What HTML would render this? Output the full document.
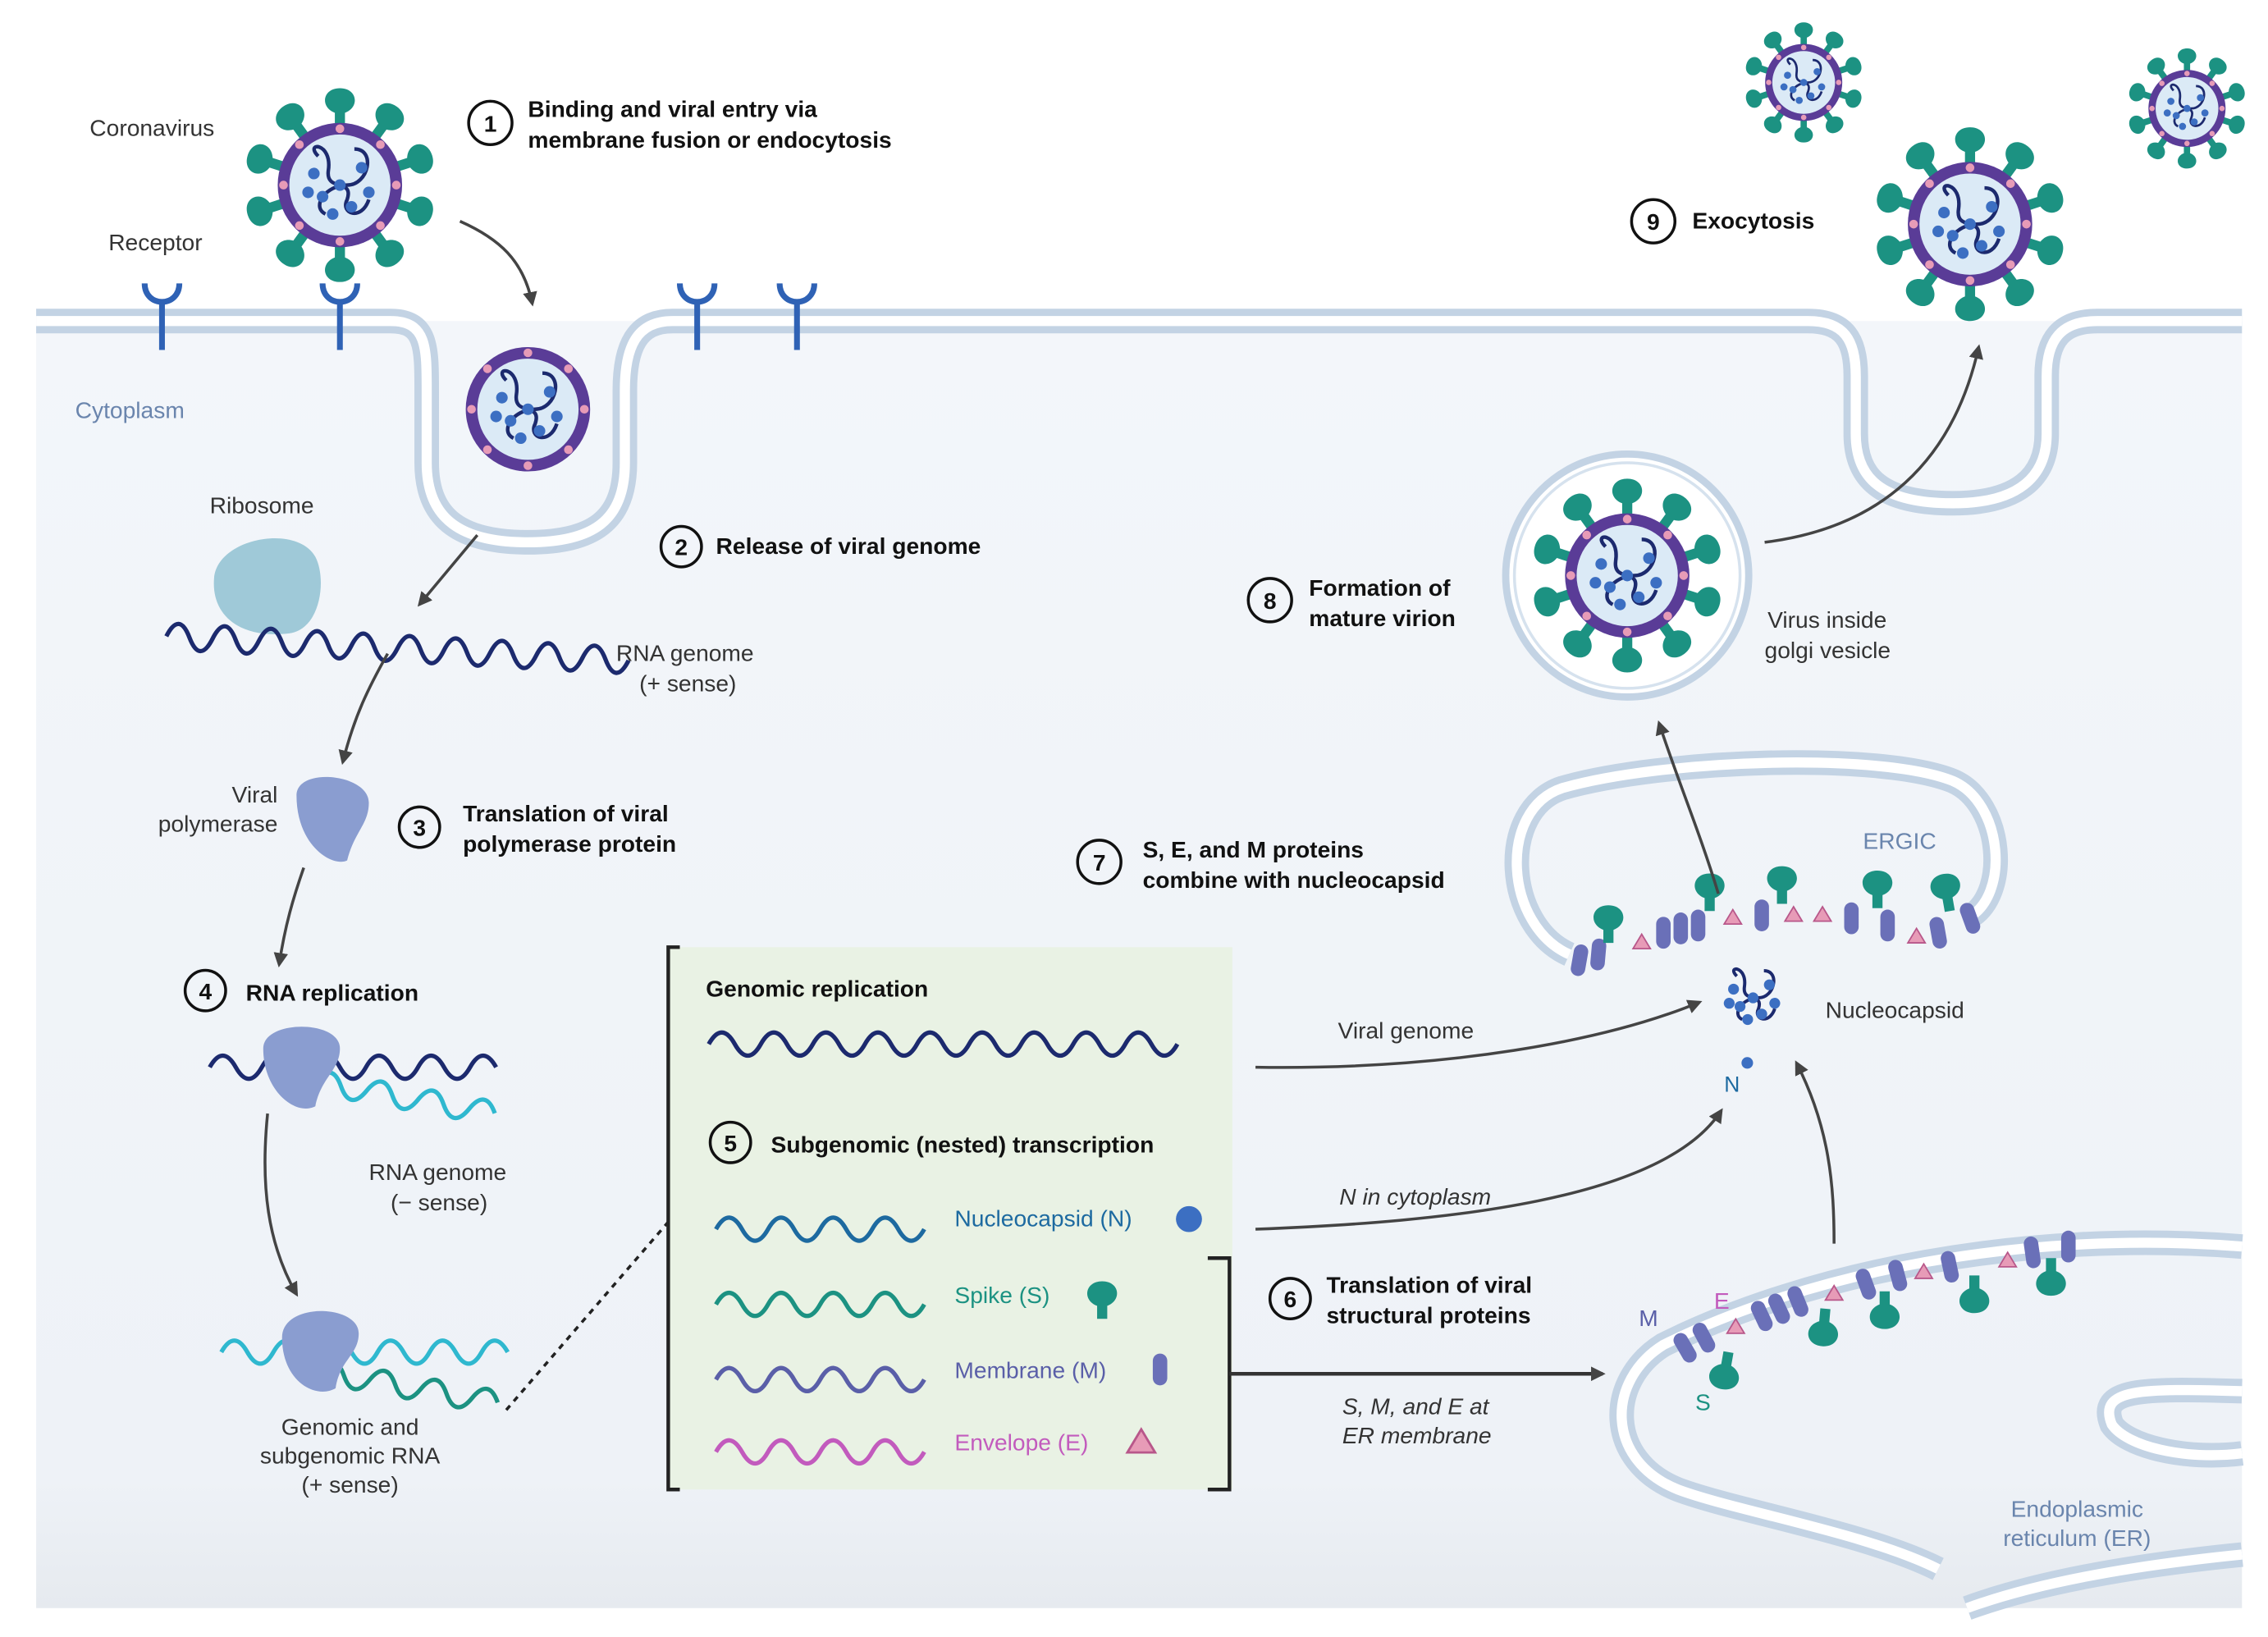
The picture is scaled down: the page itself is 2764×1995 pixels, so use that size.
<!DOCTYPE html>
<html><head><meta charset="utf-8"><style>
html,body{margin:0;padding:0;background:#fff}
svg{display:block}
text{font-family:"Liberation Sans",sans-serif}
.b{font-weight:bold;font-size:16px;fill:#111}
.n{font-size:16px;fill:#333}
</style></head><body>
<svg width="2764" height="1995" viewBox="0 0 1568 1132" preserveAspectRatio="none" xmlns="http://www.w3.org/2000/svg">
<defs>
<linearGradient id="bg" x1="0" y1="0" x2="0" y2="1"><stop offset="0" stop-color="#f3f6fa"/><stop offset="0.9" stop-color="#eef2f7"/><stop offset="1" stop-color="#e6eaef"/></linearGradient>
<marker id="ah" markerWidth="10" markerHeight="10" refX="8" refY="5" orient="auto" markerUnits="userSpaceOnUse"><path d="M0,0 L10,5 L0,10 z" fill="#444"/></marker>
<g id="spike"><path d="M-3.5,0 L-3.5,-9 C-14,-13 -12,-26 0,-26 C12,-26 14,-13 3.5,-9 L3.5,0z" fill="#1c9282"/></g>
<g id="core">
<circle r="43" fill="#5a3c97"/>
<circle r="35" fill="#dbeaf6"/>
<g fill="#e79bb7"><circle cx="0" cy="-39" r="3"/><circle cx="0" cy="39" r="3"/><circle cx="-39" cy="0" r="3"/><circle cx="39" cy="0" r="3"/><circle cx="28" cy="28" r="3"/><circle cx="-28" cy="28" r="3"/><circle cx="28" cy="-28" r="3"/><circle cx="-28" cy="-28" r="3"/></g>
<path d="M-15,-20 C-25,-30 -5,-30 -8,-10 C-10,5 10,-5 5,10 C0,20 15,25 20,10 M10,-25 C25,-25 20,0 5,0 C-10,0 -20,15 -10,20" fill="none" stroke="#1c2a6e" stroke-width="2.5"/>
<g fill="#3c6fc2"><circle cx="-18" cy="-8" r="4"/><circle cx="-12" cy="8" r="4"/><circle cx="0" cy="0" r="4"/><circle cx="15" cy="-12" r="4"/><circle cx="8" cy="15" r="4"/><circle cx="-5" cy="20" r="4"/><circle cx="20" cy="5" r="4"/><circle cx="-22" cy="5" r="4"/></g>
</g>
<g id="virus">
<g><use href="#spike" transform="rotate(0) translate(0,-41)"/><use href="#spike" transform="rotate(36) translate(0,-41)"/><use href="#spike" transform="rotate(72) translate(0,-41)"/><use href="#spike" transform="rotate(108) translate(0,-41)"/><use href="#spike" transform="rotate(144) translate(0,-41)"/><use href="#spike" transform="rotate(180) translate(0,-41)"/><use href="#spike" transform="rotate(216) translate(0,-41)"/><use href="#spike" transform="rotate(252) translate(0,-41)"/><use href="#spike" transform="rotate(288) translate(0,-41)"/><use href="#spike" transform="rotate(324) translate(0,-41)"/></g>
<use href="#core"/>
</g>
<g id="rec"><path d="M-12,-22 C-12,-5 12,-5 12,-22" fill="none" stroke="#2f62b5" stroke-width="4"/><line x1="0" y1="-8" x2="0" y2="24" stroke="#2f62b5" stroke-width="4"/></g>
<g id="mem"><rect x="-5" y="-11" width="10" height="22" rx="5" fill="#6a70b8"/></g>
<g id="env"><path d="M-6,4 L6,4 L0,-6z" fill="#e79bb7" stroke="#b8578a" stroke-width="1"/></g>
</defs>
<rect width="1568" height="1132" fill="#fff"/>
<rect x="25" y="222" width="1525" height="890" fill="url(#bg)"/>
<path d="M25,222 H270 C295,222 295,240 295,270 V320 C295,360 320,375 365,375 C410,375 432,360 432,320 V270 C432,240 440,222 465,222 H1250 C1275,222 1283,235 1283,260 V300 C1283,330 1300,348 1350,348 C1395,348 1415,330 1415,300 V260 C1415,235 1425,222 1450,222 H1550" fill="none" stroke="#c3d3e4" stroke-width="17"/>
<path d="M25,222 H270 C295,222 295,240 295,270 V320 C295,360 320,375 365,375 C410,375 432,360 432,320 V270 C432,240 440,222 465,222 H1250 C1275,222 1283,235 1283,260 V300 C1283,330 1300,348 1350,348 C1395,348 1415,330 1415,300 V260 C1415,235 1425,222 1450,222 H1550" fill="none" stroke="#fff" stroke-width="7"/>
<rect x="0" y="0" width="1568" height="212" fill="#fff"/>
<use href="#rec" transform="translate(112,218)"/><use href="#rec" transform="translate(235,218)"/><use href="#rec" transform="translate(482,218)"/><use href="#rec" transform="translate(551,218)"/>
<use href="#virus" transform="translate(235,128)"/>
<use href="#core" transform="translate(365,283)"/>
<use href="#virus" transform="translate(1247,57) scale(0.62)"/>
<use href="#virus" transform="translate(1512,75) scale(0.62)"/>
<use href="#virus" transform="translate(1362,155)"/>
<text x="62" y="94" class="n">Coronavirus</text>
<text x="75" y="173" class="n">Receptor</text>
<text x="52" y="289" font-size="16" fill="#6a85ad">Cytoplasm</text>
<!-- ribosome & RNA -->
<text x="145" y="355" class="n">Ribosome</text>
<path d="M148,400 C150,372 205,362 218,385 C226,400 222,435 200,438 C165,442 146,425 148,400z" fill="#9fc9d8"/>
<path d="M115,440 q8,-18 16,0 t16,0 t16,0 t16,0 t16,0 t16,0 t16,0 t16,0 t16,0 t16,0 t16,0 t16,0 t16,0 t16,0 t16,0 t16,0 t16,0 t16,0 t16,0 t16,0" fill="none" stroke="#1c2a6e" stroke-width="3" transform="rotate(3 115 440)"/>
<path d="M330,370 L290,418" stroke="#444" stroke-width="2" marker-end="url(#ah)"/>
<text x="426" y="457" class="n">RNA genome</text><text x="442" y="478" class="n">(+ sense)</text>
<path d="M268,452 C255,475 245,495 237,527" fill="none" stroke="#444" stroke-width="2" marker-end="url(#ah)"/>
<text x="192" y="555" class="n" text-anchor="end">Viral</text><text x="192" y="575" class="n" text-anchor="end">polymerase</text>
<path d="M205,550 C205,530 255,535 255,555 C255,570 245,575 240,595 C230,600 205,585 205,550z" fill="#8a9dd0"/>
<path d="M210,600 C203,620 197,640 193,667" fill="none" stroke="#444" stroke-width="2" marker-end="url(#ah)"/>
<path d="M145,738 q9,-16 18,0 t18,0 t18,0 t18,0 t18,0 t18,0 t18,0 t18,0 t18,0 t18,0 t18,0" fill="none" stroke="#1c2a6e" stroke-width="3"/>
<path d="M218,748 q9,-16 18,0 t18,0 t18,0 t18,0 t18,0 t18,0 t18,0" fill="none" stroke="#2fb8cf" stroke-width="3" transform="rotate(10 218 748)"/>
<path d="M182,725 C182,705 235,705 235,725 C235,740 222,745 218,765 C205,772 182,755 182,725z" fill="#8a9dd0"/>
<text x="255" y="816" class="n">RNA genome</text><text x="270" y="837" class="n">(− sense)</text>
<path d="M185,770 C180,820 185,860 205,895" fill="none" stroke="#444" stroke-width="2" marker-end="url(#ah)"/>
<path d="M153,935 q9,-16 18,0 t18,0 t18,0 t18,0 t18,0 t18,0 t18,0 t18,0 t18,0 t18,0 t18,0" fill="none" stroke="#2fb8cf" stroke-width="3"/>
<path d="M220,948 q9,-16 18,0 t18,0 t18,0 t18,0 t18,0 t18,0 t18,0" fill="none" stroke="#1c9282" stroke-width="3" transform="rotate(10 220 948)"/>
<path d="M195,925 C195,900 248,902 248,922 C248,937 235,940 232,960 C218,968 195,955 195,925z" fill="#8a9dd0"/>
<text x="242" y="992" class="n" text-anchor="middle">Genomic and</text><text x="242" y="1012" class="n" text-anchor="middle">subgenomic RNA</text><text x="242" y="1032" class="n" text-anchor="middle">(+ sense)</text>
<line x1="350" y1="975" x2="462" y2="845" stroke="#222" stroke-width="2" stroke-dasharray="4,4"/>
<!-- green box -->
<rect x="462" y="655" width="390" height="375" fill="#e9f2e4"/>
<path d="M470,655 H462 V1030 H470" fill="none" stroke="#222" stroke-width="2.5"/>
<text x="488" y="689" class="b">Genomic replication</text>
<path d="M490,722 q9,-16 18,0 t18,0 t18,0 t18,0 t18,0 t18,0 t18,0 t18,0 t18,0 t18,0 t18,0 t18,0 t18,0 t18,0 t18,0 t18,0 t18,0 t18,0" fill="none" stroke="#1c2a6e" stroke-width="3"/>
<path d="M495,850 q9,-16 18,0 t18,0 t18,0 t18,0 t18,0 t18,0 t18,0 t18,0" fill="none" stroke="#1d6aa0" stroke-width="3"/>
<path d="M495,902 q9,-16 18,0 t18,0 t18,0 t18,0 t18,0 t18,0 t18,0 t18,0" fill="none" stroke="#1c9282" stroke-width="3"/>
<path d="M495,954 q9,-16 18,0 t18,0 t18,0 t18,0 t18,0 t18,0 t18,0 t18,0" fill="none" stroke="#5a5fa8" stroke-width="3"/>
<path d="M495,1004 q9,-16 18,0 t18,0 t18,0 t18,0 t18,0 t18,0 t18,0 t18,0" fill="none" stroke="#c25bbd" stroke-width="3"/>
<text x="660" y="848" font-size="16" fill="#1d6aa0">Nucleocapsid (N)</text><circle cx="822" cy="843" r="9" fill="#3c6fc2"/>
<text x="660" y="901" font-size="16" fill="#1c9282">Spike (S)</text><use href="#spike" transform="translate(762,912) scale(1)"/>
<text x="660" y="953" font-size="16" fill="#5a5fa8">Membrane (M)</text><use href="#mem" transform="translate(802,947)"/>
<text x="660" y="1003" font-size="16" fill="#c25bbd">Envelope (E)</text><use href="#env" transform="translate(789,998) scale(1.6)"/>
<path d="M835,870 H850 V1030 H835" fill="none" stroke="#222" stroke-width="2.5"/>
<line x1="850" y1="950" x2="1108" y2="950" stroke="#333" stroke-width="2.5" marker-end="url(#ah)"/>
<text x="928" y="978" font-size="16" font-style="italic" fill="#333">S, M, and E at</text><text x="928" y="998" font-size="16" font-style="italic" fill="#333">ER membrane</text>
<!-- number circles & step labels -->
<g fill="none" stroke="#111" stroke-width="2"><circle cx="339" cy="85" r="15"/><circle cx="471" cy="378" r="14"/><circle cx="290" cy="572" r="14"/><circle cx="142" cy="685" r="14"/><circle cx="505" cy="790" r="14"/><circle cx="892" cy="898" r="14"/><circle cx="760" cy="596" r="15"/><circle cx="878" cy="415" r="15"/><circle cx="1143" cy="153" r="15"/></g>
<g text-anchor="middle"><text x="339" y="91" class="b">1</text><text x="471" y="384" class="b">2</text><text x="290" y="578" class="b">3</text><text x="142" y="691" class="b">4</text><text x="505" y="796" class="b">5</text><text x="892" y="904" class="b">6</text><text x="760" y="602" class="b">7</text><text x="878" y="421" class="b">8</text><text x="1143" y="159" class="b">9</text></g>
<text x="365" y="81" class="b">Binding and viral entry via</text><text x="365" y="102" class="b">membrane fusion or endocytosis</text>
<text x="495" y="383" class="b">Release of viral genome</text>
<text x="320" y="568" class="b">Translation of viral</text><text x="320" y="589" class="b">polymerase protein</text>
<text x="170" y="692" class="b">RNA replication</text>
<text x="533" y="797" class="b">Subgenomic (nested) transcription</text>
<text x="917" y="894" class="b">Translation of viral</text><text x="917" y="915" class="b">structural proteins</text>
<text x="790" y="593" class="b">S, E, and M proteins</text><text x="790" y="614" class="b">combine with nucleocapsid</text>
<text x="905" y="412" class="b">Formation of</text><text x="905" y="433" class="b">mature virion</text>
<text x="1170" y="158" class="b">Exocytosis</text>
<path d="M318,153 C345,165 362,180 368,210" fill="none" stroke="#444" stroke-width="2" marker-end="url(#ah)"/>
<!-- ER -->
<path d="M1550,862 C1400,850 1250,880 1150,930 C1110,955 1110,1010 1160,1030 C1200,1045 1290,1060 1340,1085 M1550,1005 C1510,1010 1470,1000 1460,985 C1450,960 1480,960 1550,962 M1360,1112 C1420,1090 1500,1080 1550,1075" fill="none" stroke="#c3d3e4" stroke-width="17"/>
<path d="M1550,862 C1400,850 1250,880 1150,930 C1110,955 1110,1010 1160,1030 C1200,1045 1290,1060 1340,1085 M1550,1005 C1510,1010 1470,1000 1460,985 C1450,960 1480,960 1550,962 M1360,1112 C1420,1090 1500,1080 1550,1075" fill="none" stroke="#fff" stroke-width="7"/>
<text x="1436" y="1049" font-size="16" fill="#6a85ad" text-anchor="middle">Endoplasmic</text><text x="1436" y="1069" font-size="16" fill="#6a85ad" text-anchor="middle">reticulum (ER)</text>
<g><use href="#mem" transform="translate(1165,932) rotate(-30)"/><use href="#mem" transform="translate(1178,925) rotate(-28)"/><use href="#env" transform="translate(1200,918)"/><use href="#mem" transform="translate(1218,910) rotate(-25)"/><use href="#mem" transform="translate(1230,905) rotate(-25)"/><use href="#mem" transform="translate(1243,900) rotate(-22)"/><use href="#env" transform="translate(1268,895)"/><use href="#mem" transform="translate(1290,888) rotate(-20)"/><use href="#mem" transform="translate(1312,882) rotate(-15)"/><use href="#env" transform="translate(1330,880)"/><use href="#mem" transform="translate(1348,876) rotate(-12)"/><use href="#env" transform="translate(1388,872)"/><use href="#mem" transform="translate(1405,866) rotate(-8)"/><use href="#mem" transform="translate(1430,862)"/>
<use href="#spike" transform="translate(1195,935) rotate(190)"/><use href="#spike" transform="translate(1262,905) rotate(185)"/><use href="#spike" transform="translate(1303,893) rotate(180)"/><use href="#spike" transform="translate(1365,882) rotate(180)"/><use href="#spike" transform="translate(1418,870) rotate(180)"/></g>
<text x="1133" y="917" font-size="16" fill="#5a5fa8">M</text><text x="1185" y="905" font-size="16" fill="#c25bbd">E</text><text x="1172" y="975" font-size="16" fill="#1c9282">S</text>
<!-- ERGIC -->
<path d="M1085,660 C1040,640 1035,560 1080,545 C1150,525 1300,520 1350,540 C1385,555 1390,620 1360,635" fill="none" stroke="#c3d3e4" stroke-width="17"/>
<path d="M1085,660 C1040,640 1035,560 1080,545 C1150,525 1300,520 1350,540 C1385,555 1390,620 1360,635" fill="none" stroke="#fff" stroke-width="7"/>
<text x="1288" y="587" font-size="16" fill="#6a85ad">ERGIC</text>
<g><use href="#mem" transform="translate(1092,664) rotate(10)"/><use href="#mem" transform="translate(1105,660) rotate(5)"/><use href="#env" transform="translate(1135,652)"/><use href="#mem" transform="translate(1150,645)"/><use href="#mem" transform="translate(1162,642)"/><use href="#mem" transform="translate(1174,640)"/><use href="#env" transform="translate(1198,635)"/><use href="#mem" transform="translate(1218,633)"/><use href="#env" transform="translate(1240,633)"/><use href="#env" transform="translate(1260,633)"/><use href="#mem" transform="translate(1280,635)"/><use href="#mem" transform="translate(1305,640)"/><use href="#env" transform="translate(1325,648)"/><use href="#mem" transform="translate(1340,645) rotate(-10)"/><use href="#mem" transform="translate(1362,635) rotate(-20)"/>
<use href="#spike" transform="translate(1112,652)"/><use href="#spike" transform="translate(1182,630)"/><use href="#spike" transform="translate(1232,625)"/><use href="#spike" transform="translate(1298,628)"/><use href="#spike" transform="translate(1348,630) rotate(-10)"/></g>
<g transform="translate(1212,690) scale(0.75)"><path d="M-15,-20 C-25,-30 -5,-30 -8,-10 C-10,5 10,-5 5,10 C0,20 15,25 20,10 M10,-25 C25,-25 20,0 5,0 C-10,0 -20,15 -10,20" fill="none" stroke="#1c2a6e" stroke-width="3"/><g fill="#3c6fc2"><circle cx="-18" cy="-8" r="5"/><circle cx="-12" cy="8" r="5"/><circle cx="0" cy="0" r="5"/><circle cx="15" cy="-12" r="5"/><circle cx="8" cy="15" r="5"/><circle cx="-5" cy="20" r="5"/><circle cx="20" cy="5" r="5"/><circle cx="-22" cy="5" r="5"/></g></g>
<circle cx="1208" cy="735" r="4" fill="#3c6fc2"/>
<text x="1262" y="704" class="n">Nucleocapsid</text><text x="1192" y="755" font-size="15" fill="#1d6aa0">N</text>
<path d="M868,738 C1000,740 1110,720 1175,693" fill="none" stroke="#444" stroke-width="2" marker-end="url(#ah)"/>
<text x="925" y="718" class="n">Viral genome</text>
<path d="M868,850 C1000,845 1150,830 1190,768" fill="none" stroke="#444" stroke-width="2" marker-end="url(#ah)"/>
<text x="926" y="833" font-size="16" font-style="italic" fill="#333">N in cytoplasm</text>
<path d="M1268,860 C1268,820 1265,780 1242,735" fill="none" stroke="#444" stroke-width="2" marker-end="url(#ah)"/>
<path d="M1188,618 C1175,575 1160,540 1147,500" fill="none" stroke="#444" stroke-width="2" marker-end="url(#ah)"/>
<!-- golgi vesicle -->
<circle cx="1125" cy="398" r="84" fill="#fff" stroke="#c3d3e4" stroke-width="5"/>
<circle cx="1125" cy="398" r="78" fill="none" stroke="#d6e2ee" stroke-width="2"/>
<use href="#virus" transform="translate(1125,398)"/>
<text x="1222" y="434" class="n">Virus inside</text><text x="1220" y="455" class="n">golgi vesicle</text>
<path d="M1220,375 C1300,365 1350,320 1368,240" fill="none" stroke="#444" stroke-width="2" marker-end="url(#ah)"/>
</svg>
</body></html>
